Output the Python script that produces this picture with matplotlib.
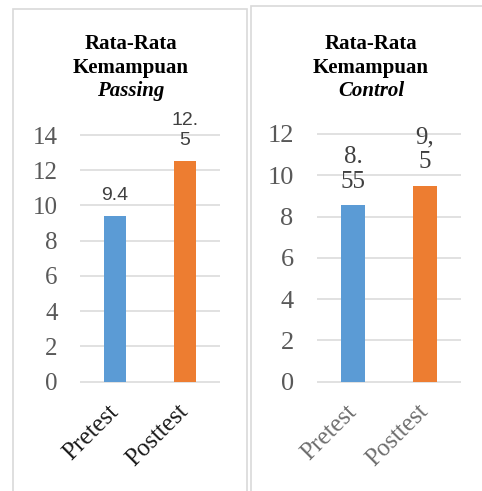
import matplotlib.pyplot as plt
from matplotlib.patches import Rectangle

W, H = 482, 491

categories = ["Pretest", "Posttest"]

passing_values = [9.4, 12.5]
passing_labels = ["9.4", "12.\n5"]
passing_ticks = [0, 2, 4, 6, 8, 10, 12, 14]

control_values = [8.55, 9.5]
control_labels = ["8.\n55", "9,\n5"]
control_ticks = [0, 2, 4, 6, 8, 10, 12]

colors = ["#5b9bd5", "#ed7d31"]
grid_color = "#d9d9d9"
serif = "Liberation Serif"
sans = "Liberation Sans"


def px_box(x0, y0, x1, y1):
    # pixel box (top-left origin) -> figure fraction rect
    return [x0 / W, 1 - y1 / H, (x1 - x0) / W, (y1 - y0) / H]


def draw_panel(ax, values, labels, ticks, bar_w, lab_font, lab_size, lab_spacing,
               tick_size, tick_pad, cat_color):
    x = list(range(len(values)))
    ax.hlines(ticks, -0.5, 1.5, color=grid_color, lw=1.1, zorder=0, clip_on=False)
    ax.bar(x, values, width=bar_w, color=colors, zorder=2)
    ax.set_xlim(-0.5, 1.5)
    ax.set_ylim(ticks[0], ticks[-1])
    ax.tick_params(axis="y", length=0, pad=tick_pad, labelsize=tick_size,
                   labelcolor="#595959", labelfontfamily=serif)
    ax.tick_params(axis="x", length=0, pad=19, labelsize=18,
                   labelcolor=cat_color, labelfontfamily=serif)
    ax.set_yticks(ticks)
    ax.set_xticks(x)
    ax.set_xticklabels(categories, rotation=45, ha="right", va="center",
                       rotation_mode="anchor")
    for s in ax.spines.values():
        s.set_visible(False)
    ax.patch.set_alpha(0)
    for i, (v, lab) in enumerate(zip(values, labels)):
        ax.annotate(lab, xy=(i, v), xytext=(0, 9), textcoords="offset points",
                    ha="center", va="bottom", family=lab_font, fontsize=lab_size,
                    color="#404040", linespacing=lab_spacing, annotation_clip=False)


fig = plt.figure(figsize=(W / 100, H / 100), dpi=100)

# panel frames
fig.add_artist(Rectangle((13 / W, -0.1), (247 - 13) / W, 1.1 - 9 / H, transform=fig.transFigure,
                         fill=False, ec=grid_color, lw=1.2))
fig.add_artist(Rectangle((251 / W, -0.1), 0.6, 1.1 - 6 / H, transform=fig.transFigure,
                         fill=False, ec=grid_color, lw=1.2))

ax1 = fig.add_axes(px_box(80, 135, 220, 381.7))
draw_panel(ax1, passing_values, passing_labels, passing_ticks, 0.32, sans, 14, 1.25,
           18, 16, "#1a1a1a")

ax2 = fig.add_axes(px_box(317.3, 134, 460.7, 381.7))
draw_panel(ax2, control_values, control_labels, control_ticks, 0.325, serif, 18, 1.15,
           19, 17, "#6e6e6e")

# titles
title_kw = dict(ha="center", va="center", fontsize=15, fontweight="bold", family=serif, color="black")
fig.text(131 / W, 1 - 44 / H, "Rata-Rata", **title_kw)
fig.text(131 / W, 1 - 68 / H, "Kemampuan", **title_kw)
fig.text(131 / W, 1 - 91 / H, "Passing", style="italic", **title_kw)
fig.text(371 / W, 1 - 44 / H, "Rata-Rata", **title_kw)
fig.text(371 / W, 1 - 68 / H, "Kemampuan", **title_kw)
fig.text(371 / W, 1 - 91 / H, "Control", style="italic", **title_kw)

fig.savefig("out.png", dpi=100)
